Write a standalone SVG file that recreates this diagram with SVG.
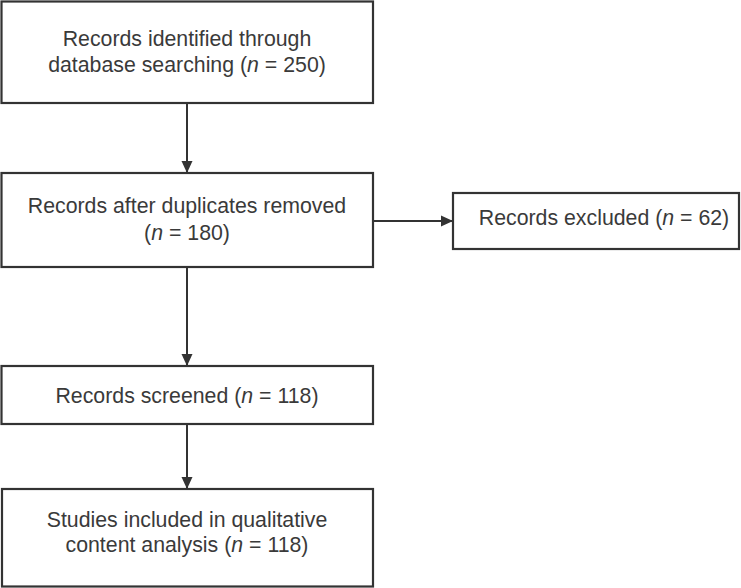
<svg xmlns="http://www.w3.org/2000/svg" width="741" height="588" viewBox="0 0 741 588">
<defs>
<marker id="ah" markerWidth="12" markerHeight="12" refX="12" refY="6" orient="auto" markerUnits="userSpaceOnUse">
<path d="M0,0.5 L12,6 L0,11.5 Z" fill="#333"/>
</marker>
<style>
.box{fill:#fff;stroke:#333;stroke-width:2.2}
.t{font-family:"Liberation Sans",Arial,sans-serif;font-size:21.3px;fill:#3a3a3a;text-anchor:middle}
.c{stroke:#333;stroke-width:2;fill:none}
</style>
</defs>
<rect width="741" height="588" fill="#fff"/>
<g id="connectors">
<line class="c" x1="187" y1="103" x2="187" y2="173" marker-end="url(#ah)"/>
<line class="c" x1="373" y1="221" x2="453" y2="221" marker-end="url(#ah)"/>
<line class="c" x1="187" y1="267" x2="187" y2="366" stroke-width="1.5" marker-end="url(#ah)"/>
<line class="c" x1="187" y1="424" x2="187" y2="489" marker-end="url(#ah)"/>
</g>
<g id="n1">
<rect class="box" x="1.5" y="1.5" width="371.5" height="101.5"/>
<text class="t" x="187" y="46">Records identified through</text>
<text class="t" x="187" y="72">database searching (<tspan font-style="italic">n</tspan> = 250)</text>
</g>
<g id="n2">
<rect class="box" x="1.5" y="173" width="371.5" height="94"/>
<text class="t" x="187" y="213">Records after duplicates removed</text>
<text class="t" x="187" y="240">(<tspan font-style="italic">n</tspan> = 180)</text>
</g>
<g id="n3">
<rect class="box" x="453" y="193" width="286" height="56"/>
<text class="t" x="604" y="225">Records excluded (<tspan font-style="italic">n</tspan> = 62)</text>
</g>
<g id="n4">
<rect class="box" x="1.5" y="366" width="371.5" height="58"/>
<text class="t" x="187" y="403">Records screened (<tspan font-style="italic">n</tspan> = 118)</text>
</g>
<g id="n5">
<rect class="box" x="2" y="489" width="371" height="97.5"/>
<text class="t" x="187" y="527">Studies included in qualitative</text>
<text class="t" x="187" y="552">content analysis (<tspan font-style="italic">n</tspan> = 118)</text>
</g>
</svg>
